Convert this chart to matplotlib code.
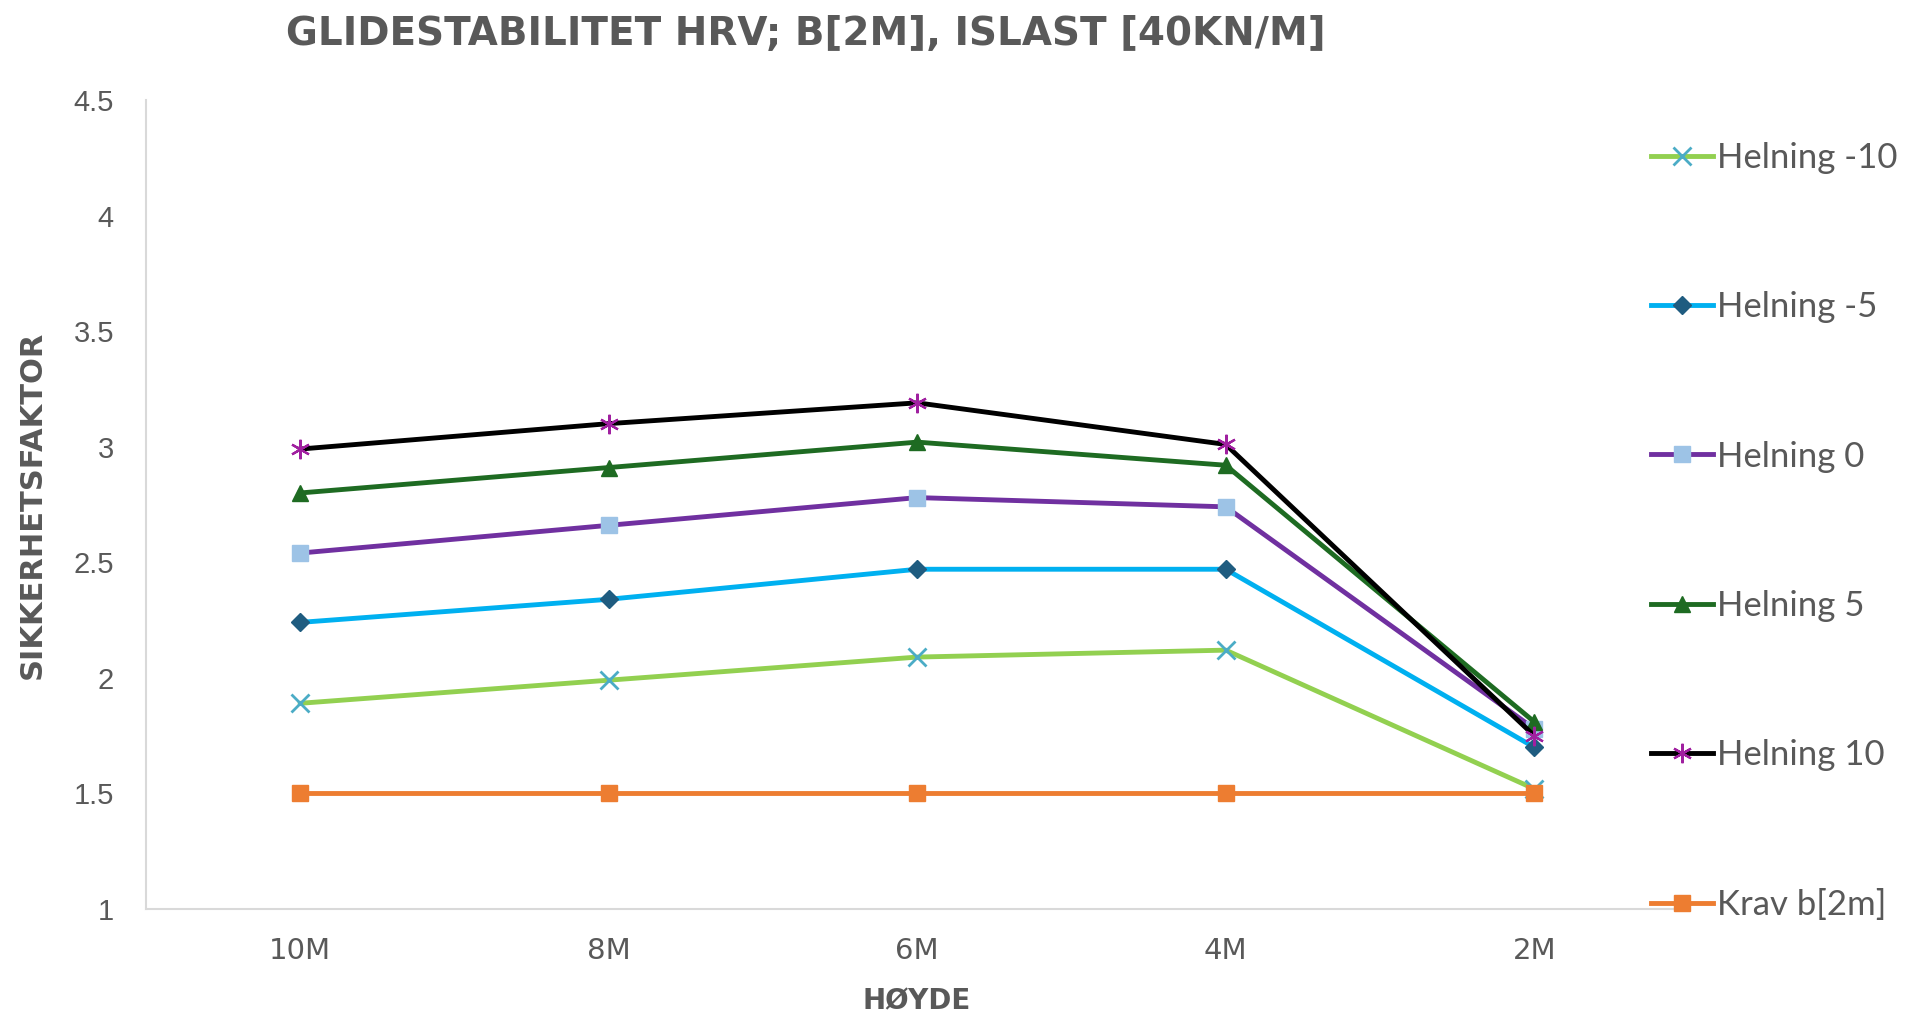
import matplotlib
matplotlib.use("Agg")
import matplotlib.pyplot as plt

categories = ["10M", "8M", "6M", "4M", "2M"]
helning_m10 = [1.89, 1.99, 2.09, 2.12, 1.52]
helning_m5 = [2.24, 2.34, 2.47, 2.47, 1.70]
helning_0 = [2.54, 2.66, 2.78, 2.74, 1.78]
helning_5 = [2.80, 2.91, 3.02, 2.92, 1.81]
helning_10 = [2.99, 3.10, 3.19, 3.01, 1.75]
krav = [1.5, 1.5, 1.5, 1.5, 1.5]
yticks = [1, 1.5, 2, 2.5, 3, 3.5, 4, 4.5]
ytick_labels = ["1", "1.5", "2", "2.5", "3", "3.5", "4", "4.5"]

TXT = "#595959"
fig = plt.figure(figsize=(19.1, 10.24), dpi=100)
ax = fig.add_axes([0.0764, 0.1123, 0.8076, 0.79])

x = list(range(len(categories)))
series = [
    ("Helning -10", helning_m10, "#92D050", "x", "#4BACC6", 3.5, 13, 2.0),
    ("Helning -5", helning_m5, "#00B0F0", "D", "#1F5C80", 3.5, 9, 1.0),
    ("Helning 0", helning_0, "#7030A0", "s", "#9DC3E6", 3.5, 12, 1.0),
    ("Helning 5", helning_5, "#1E6B22", "^", "#1E6B22", 3.5, 12, 1.0),
    ("Helning 10", helning_10, "#000000", (6, 2, 0), "#A020A0", 3.5, 14, 1.6),
    ("Krav b[2m]", krav, "#ED7D31", "s", "#ED7D31", 3.5, 11, 1.0),
]
handles = []
for name, vals, lc, mk, mc, lw, ms, mew in series:
    h, = ax.plot(x, vals, color=lc, lw=lw, marker=mk, markersize=ms,
                 markerfacecolor=mc, markeredgecolor=mc, markeredgewidth=mew,
                 label=name, solid_joinstyle="round")
    handles.append(h)

ax.set_xlim(-0.5, 4.5)
ax.set_ylim(1, 4.5)
ax.set_yticks(yticks)
ax.set_yticklabels(ytick_labels, fontsize=21, color=TXT, family="Liberation Sans")
ax.set_xticks(x)
ax.set_xticklabels(categories, fontsize=21, color=TXT, family="DejaVu Sans")
ax.tick_params(axis="both", length=0)
ax.tick_params(axis="x", pad=20)
ax.tick_params(axis="y", pad=23)
for s in ["top", "right"]:
    ax.spines[s].set_visible(False)
for s in ["left", "bottom"]:
    ax.spines[s].set_color("#D9D9D9")
    ax.spines[s].set_linewidth(1.5)

fig.text(0.422, 0.967, "GLIDESTABILITET HRV; B[2M], ISLAST [40KN/M]",
         ha="center", va="center", fontsize=28, fontweight="bold", color=TXT,
         family="DejaVu Sans")
fig.text(0.480, 0.022, "HØYDE", ha="center", va="center", fontsize=20,
         fontweight="bold", color=TXT, family="DejaVu Sans")
fig.text(0.017, 0.507, "SIKKERHETSFAKTOR", ha="center", va="center",
         rotation=90, fontsize=22, fontweight="bold", color=TXT,
         family="DejaVu Sans")

leg = fig.legend(handles=handles, loc="upper left",
                 bbox_to_anchor=(0.857, 0.875), frameon=False,
                 prop={"family": "Lato", "size": 25},
                 labelspacing=3.38, handlelength=1.8, handletextpad=0.1,
                 borderaxespad=0)
for t in leg.get_texts():
    t.set_color(TXT)

fig.savefig("out.png", dpi=100)
